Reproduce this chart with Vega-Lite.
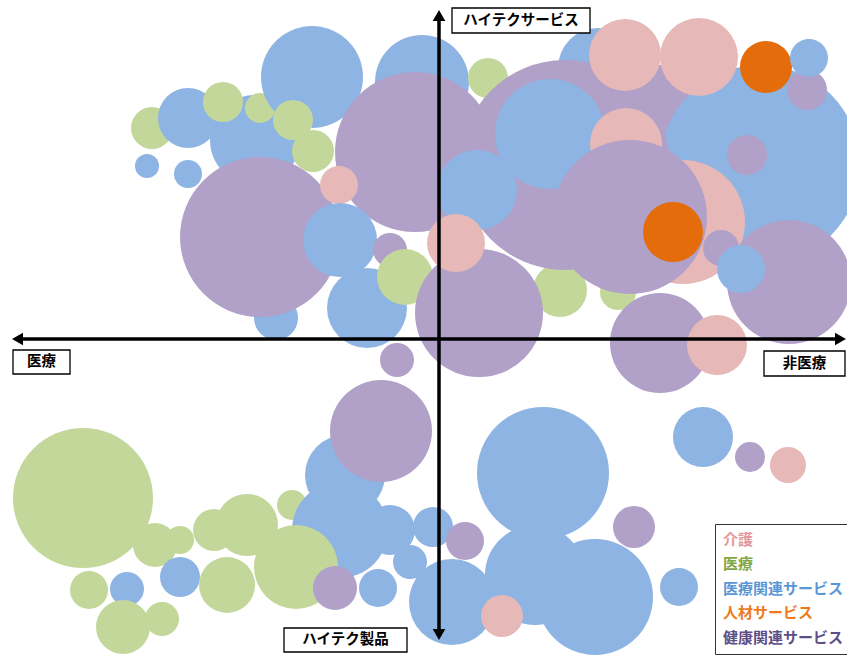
{
  "$schema": "https://vega.github.io/schema/vega-lite/v6.json",
  "width": 847,
  "height": 655,
  "padding": 0,
  "autosize": {"type": "none"},
  "background": "white",
  "config": {"view": {"stroke": null}, "font": "Noto Sans CJK JP"},
  "layer": [
    {
      "data": {"values": [
        {"x": -184, "y": 199, "d": 90, "cat": "医療関連サービス"},
        {"x": -287, "y": 211, "d": 42, "cat": "医療"},
        {"x": -251, "y": 221, "d": 60, "cat": "医療関連サービス"},
        {"x": -216, "y": 237, "d": 40, "cat": "医療"},
        {"x": -179, "y": 231, "d": 30, "cat": "医療"},
        {"x": -292, "y": 173, "d": 24, "cat": "医療関連サービス"},
        {"x": -251, "y": 165, "d": 28, "cat": "医療関連サービス"},
        {"x": -127, "y": 262, "d": 102, "cat": "医療関連サービス"},
        {"x": -146, "y": 219, "d": 40, "cat": "医療"},
        {"x": -126, "y": 188, "d": 42, "cat": "医療"},
        {"x": -17, "y": 257, "d": 94, "cat": "医療関連サービス"},
        {"x": 49, "y": 261, "d": 40, "cat": "医療"},
        {"x": 159, "y": 271, "d": 80, "cat": "医療関連サービス"},
        {"x": 221, "y": 234, "d": 80, "cat": "健康関連サービス"},
        {"x": 321, "y": 174, "d": 200, "cat": "医療関連サービス"},
        {"x": 308, "y": 184, "d": 40, "cat": "健康関連サービス"},
        {"x": 121, "y": 49, "d": 54, "cat": "医療"},
        {"x": -24, "y": 187, "d": 160, "cat": "健康関連サービス"},
        {"x": 126, "y": 174, "d": 210, "cat": "健康関連サービス"},
        {"x": 111, "y": 205, "d": 110, "cat": "医療関連サービス"},
        {"x": 186, "y": 284, "d": 72, "cat": "介護"},
        {"x": 260, "y": 282, "d": 78, "cat": "介護"},
        {"x": 327, "y": 272, "d": 52, "cat": "人材サービス"},
        {"x": 368, "y": 249, "d": 40, "cat": "健康関連サービス"},
        {"x": 370, "y": 281, "d": 38, "cat": "医療関連サービス"},
        {"x": 187, "y": 195, "d": 72, "cat": "介護"},
        {"x": 179, "y": 47, "d": 36, "cat": "医療"},
        {"x": 244, "y": 117, "d": 124, "cat": "介護"},
        {"x": 191, "y": 122, "d": 154, "cat": "健康関連サービス"},
        {"x": 234, "y": 107, "d": 60, "cat": "人材サービス"},
        {"x": 282, "y": 91, "d": 36, "cat": "健康関連サービス"},
        {"x": 350, "y": 57, "d": 124, "cat": "健康関連サービス"},
        {"x": 302, "y": 70, "d": 48, "cat": "医療関連サービス"},
        {"x": 221, "y": -4, "d": 100, "cat": "健康関連サービス"},
        {"x": 278, "y": -6, "d": 60, "cat": "介護"},
        {"x": -163, "y": 21, "d": 44, "cat": "医療関連サービス"},
        {"x": -179, "y": 102, "d": 160, "cat": "健康関連サービス"},
        {"x": -100, "y": 154, "d": 38, "cat": "介護"},
        {"x": -99, "y": 99, "d": 74, "cat": "医療関連サービス"},
        {"x": -49, "y": 89, "d": 34, "cat": "健康関連サービス"},
        {"x": -72, "y": 31, "d": 80, "cat": "医療関連サービス"},
        {"x": -34, "y": 62, "d": 56, "cat": "医療"},
        {"x": 38, "y": 149, "d": 80, "cat": "医療関連サービス"},
        {"x": 40, "y": 26, "d": 128, "cat": "健康関連サービス"},
        {"x": 17, "y": 96, "d": 58, "cat": "介護"},
        {"x": -356, "y": -159, "d": 140, "cat": "医療"},
        {"x": -284, "y": -206, "d": 44, "cat": "医療"},
        {"x": -259, "y": -201, "d": 28, "cat": "医療"},
        {"x": -225, "y": -191, "d": 42, "cat": "医療"},
        {"x": -192, "y": -186, "d": 62, "cat": "医療"},
        {"x": -147, "y": -166, "d": 30, "cat": "医療"},
        {"x": -94, "y": -136, "d": 80, "cat": "医療関連サービス"},
        {"x": -99, "y": -191, "d": 96, "cat": "医療関連サービス"},
        {"x": -49, "y": -191, "d": 50, "cat": "医療関連サービス"},
        {"x": -29, "y": -223, "d": 34, "cat": "医療関連サービス"},
        {"x": -143, "y": -228, "d": 84, "cat": "医療"},
        {"x": -58, "y": -92, "d": 102, "cat": "健康関連サービス"},
        {"x": -42, "y": -21, "d": 34, "cat": "健康関連サービス"},
        {"x": -6, "y": -188, "d": 40, "cat": "医療関連サービス"},
        {"x": -61, "y": -249, "d": 38, "cat": "医療関連サービス"},
        {"x": -104, "y": -249, "d": 44, "cat": "健康関連サービス"},
        {"x": -350, "y": -251, "d": 38, "cat": "医療"},
        {"x": -312, "y": -250, "d": 34, "cat": "医療関連サービス"},
        {"x": -316, "y": -288, "d": 54, "cat": "医療"},
        {"x": -277, "y": -280, "d": 34, "cat": "医療"},
        {"x": -259, "y": -238, "d": 40, "cat": "医療関連サービス"},
        {"x": -212, "y": -246, "d": 56, "cat": "医療"},
        {"x": 104, "y": -134, "d": 132, "cat": "医療関連サービス"},
        {"x": 96, "y": -236, "d": 100, "cat": "医療関連サービス"},
        {"x": 156, "y": -258, "d": 116, "cat": "医療関連サービス"},
        {"x": 13, "y": -263, "d": 86, "cat": "医療関連サービス"},
        {"x": 26, "y": -202, "d": 38, "cat": "健康関連サービス"},
        {"x": 63, "y": -277, "d": 42, "cat": "介護"},
        {"x": 195, "y": -188, "d": 42, "cat": "健康関連サービス"},
        {"x": 240, "y": -248, "d": 38, "cat": "医療関連サービス"},
        {"x": 264, "y": -98, "d": 60, "cat": "医療関連サービス"},
        {"x": 311, "y": -118, "d": 30, "cat": "健康関連サービス"},
        {"x": 349, "y": -126, "d": 36, "cat": "介護"}
      ]},
      "mark": {"type": "point", "filled": true, "opacity": 1, "strokeWidth": 0},
      "encoding": {
        "x": {"field": "x", "type": "quantitative", "scale": {"domain": [-439, 408], "nice": false, "zero": false}, "axis": null},
        "y": {"field": "y", "type": "quantitative", "scale": {"domain": [-316, 339], "nice": false, "zero": false}, "axis": null},
        "size": {"field": "d", "type": "quantitative", "scale": {"type": "pow", "exponent": 2, "domain": [0, 200], "range": [0, 40000], "zero": true}, "legend": null},
        "color": {
          "field": "cat", "type": "nominal",
          "scale": {"domain": ["介護", "医療", "医療関連サービス", "人材サービス", "健康関連サービス"], "range": ["#E6B9B8", "#C4D79B", "#8DB4E2", "#E46C0A", "#B1A0C7"]},
          "legend": {
            "orient": "none", "legendX": 715, "legendY": 524, "title": null,
            "strokeColor": "#333333", "fillColor": "white", "padding": 8,
            "symbolSize": 0, "symbolStrokeWidth": 0, "symbolOpacity": 0, "labelOffset": -15,
            "labelFont": "Noto Sans CJK JP", "labelFontSize": 15, "labelFontWeight": "bold", "rowPadding": 8.5,
            "labelColor": {"expr": "datum.value === '介護' ? '#E39A9C' : datum.value === '医療' ? '#7FA745' : datum.value === '医療関連サービス' ? '#5A96D6' : datum.value === '人材サービス' ? '#EE7A1C' : '#5E4D87'"}
          }
        }
      }
    },
    {
      "data": {"values": [
        {"x": -419, "x2": 399, "y": 0, "y2": 0},
        {"x": 0, "x2": 0, "y": 321, "y2": -293}
      ]},
      "mark": {"type": "rule", "color": "black", "strokeWidth": 3.5},
      "encoding": {
        "x": {"field": "x", "type": "quantitative", "scale": {"domain": [-439, 408], "nice": false, "zero": false}, "axis": null},
        "x2": {"field": "x2"},
        "y": {"field": "y", "type": "quantitative", "scale": {"domain": [-316, 339], "nice": false, "zero": false}, "axis": null},
        "y2": {"field": "y2"}
      }
    },
    {
      "data": {"values": [
        {"x": -421.5, "y": 0, "dir": "left"},
        {"x": 401.5, "y": 0, "dir": "right"},
        {"x": 0, "y": 323.5, "dir": "up"},
        {"x": 0, "y": -295.5, "dir": "down"}
      ]},
      "mark": {"type": "point", "filled": true, "opacity": 1, "color": "black", "size": 160, "strokeWidth": 0},
      "encoding": {
        "x": {"field": "x", "type": "quantitative", "scale": {"domain": [-439, 408], "nice": false, "zero": false}, "axis": null},
        "y": {"field": "y", "type": "quantitative", "scale": {"domain": [-316, 339], "nice": false, "zero": false}, "axis": null},
        "shape": {"field": "dir", "type": "nominal", "scale": {"domain": ["left", "right", "up", "down"], "range": ["triangle-left", "triangle-right", "triangle-up", "triangle-down"]}, "legend": null}
      }
    },
    {
      "data": {"values": [
        {"xa": 13, "xb": 151, "ya": 331, "yb": 306, "x": 82, "y": 318.5, "t": "ハイテクサービス"},
        {"xa": -426, "xb": -369, "ya": -11, "yb": -35, "x": -397.5, "y": -23, "t": "医療"},
        {"xa": 325, "xb": 406, "ya": -12, "yb": -37, "x": 365.5, "y": -24.5, "t": "非医療"},
        {"xa": -155, "xb": -32, "ya": -289, "yb": -313, "x": -93.5, "y": -301, "t": "ハイテク製品"}
      ]},
      "layer": [
        {
          "mark": {"type": "rect", "fill": "white", "stroke": "black", "strokeWidth": 1.3},
          "encoding": {
            "x": {"field": "xa", "type": "quantitative", "scale": {"domain": [-439, 408], "nice": false, "zero": false}, "axis": null},
            "x2": {"field": "xb"},
            "y": {"field": "ya", "type": "quantitative", "scale": {"domain": [-316, 339], "nice": false, "zero": false}, "axis": null},
            "y2": {"field": "yb"}
          }
        },
        {
          "mark": {"type": "text", "font": "Noto Sans CJK JP", "fontWeight": "bold", "fontSize": 14.5, "color": "black", "align": "center", "baseline": "middle"},
          "encoding": {
            "x": {"field": "x", "type": "quantitative", "scale": {"domain": [-439, 408], "nice": false, "zero": false}, "axis": null},
            "y": {"field": "y", "type": "quantitative", "scale": {"domain": [-316, 339], "nice": false, "zero": false}, "axis": null},
            "text": {"field": "t"}
          }
        }
      ]
    }
  ]
}
